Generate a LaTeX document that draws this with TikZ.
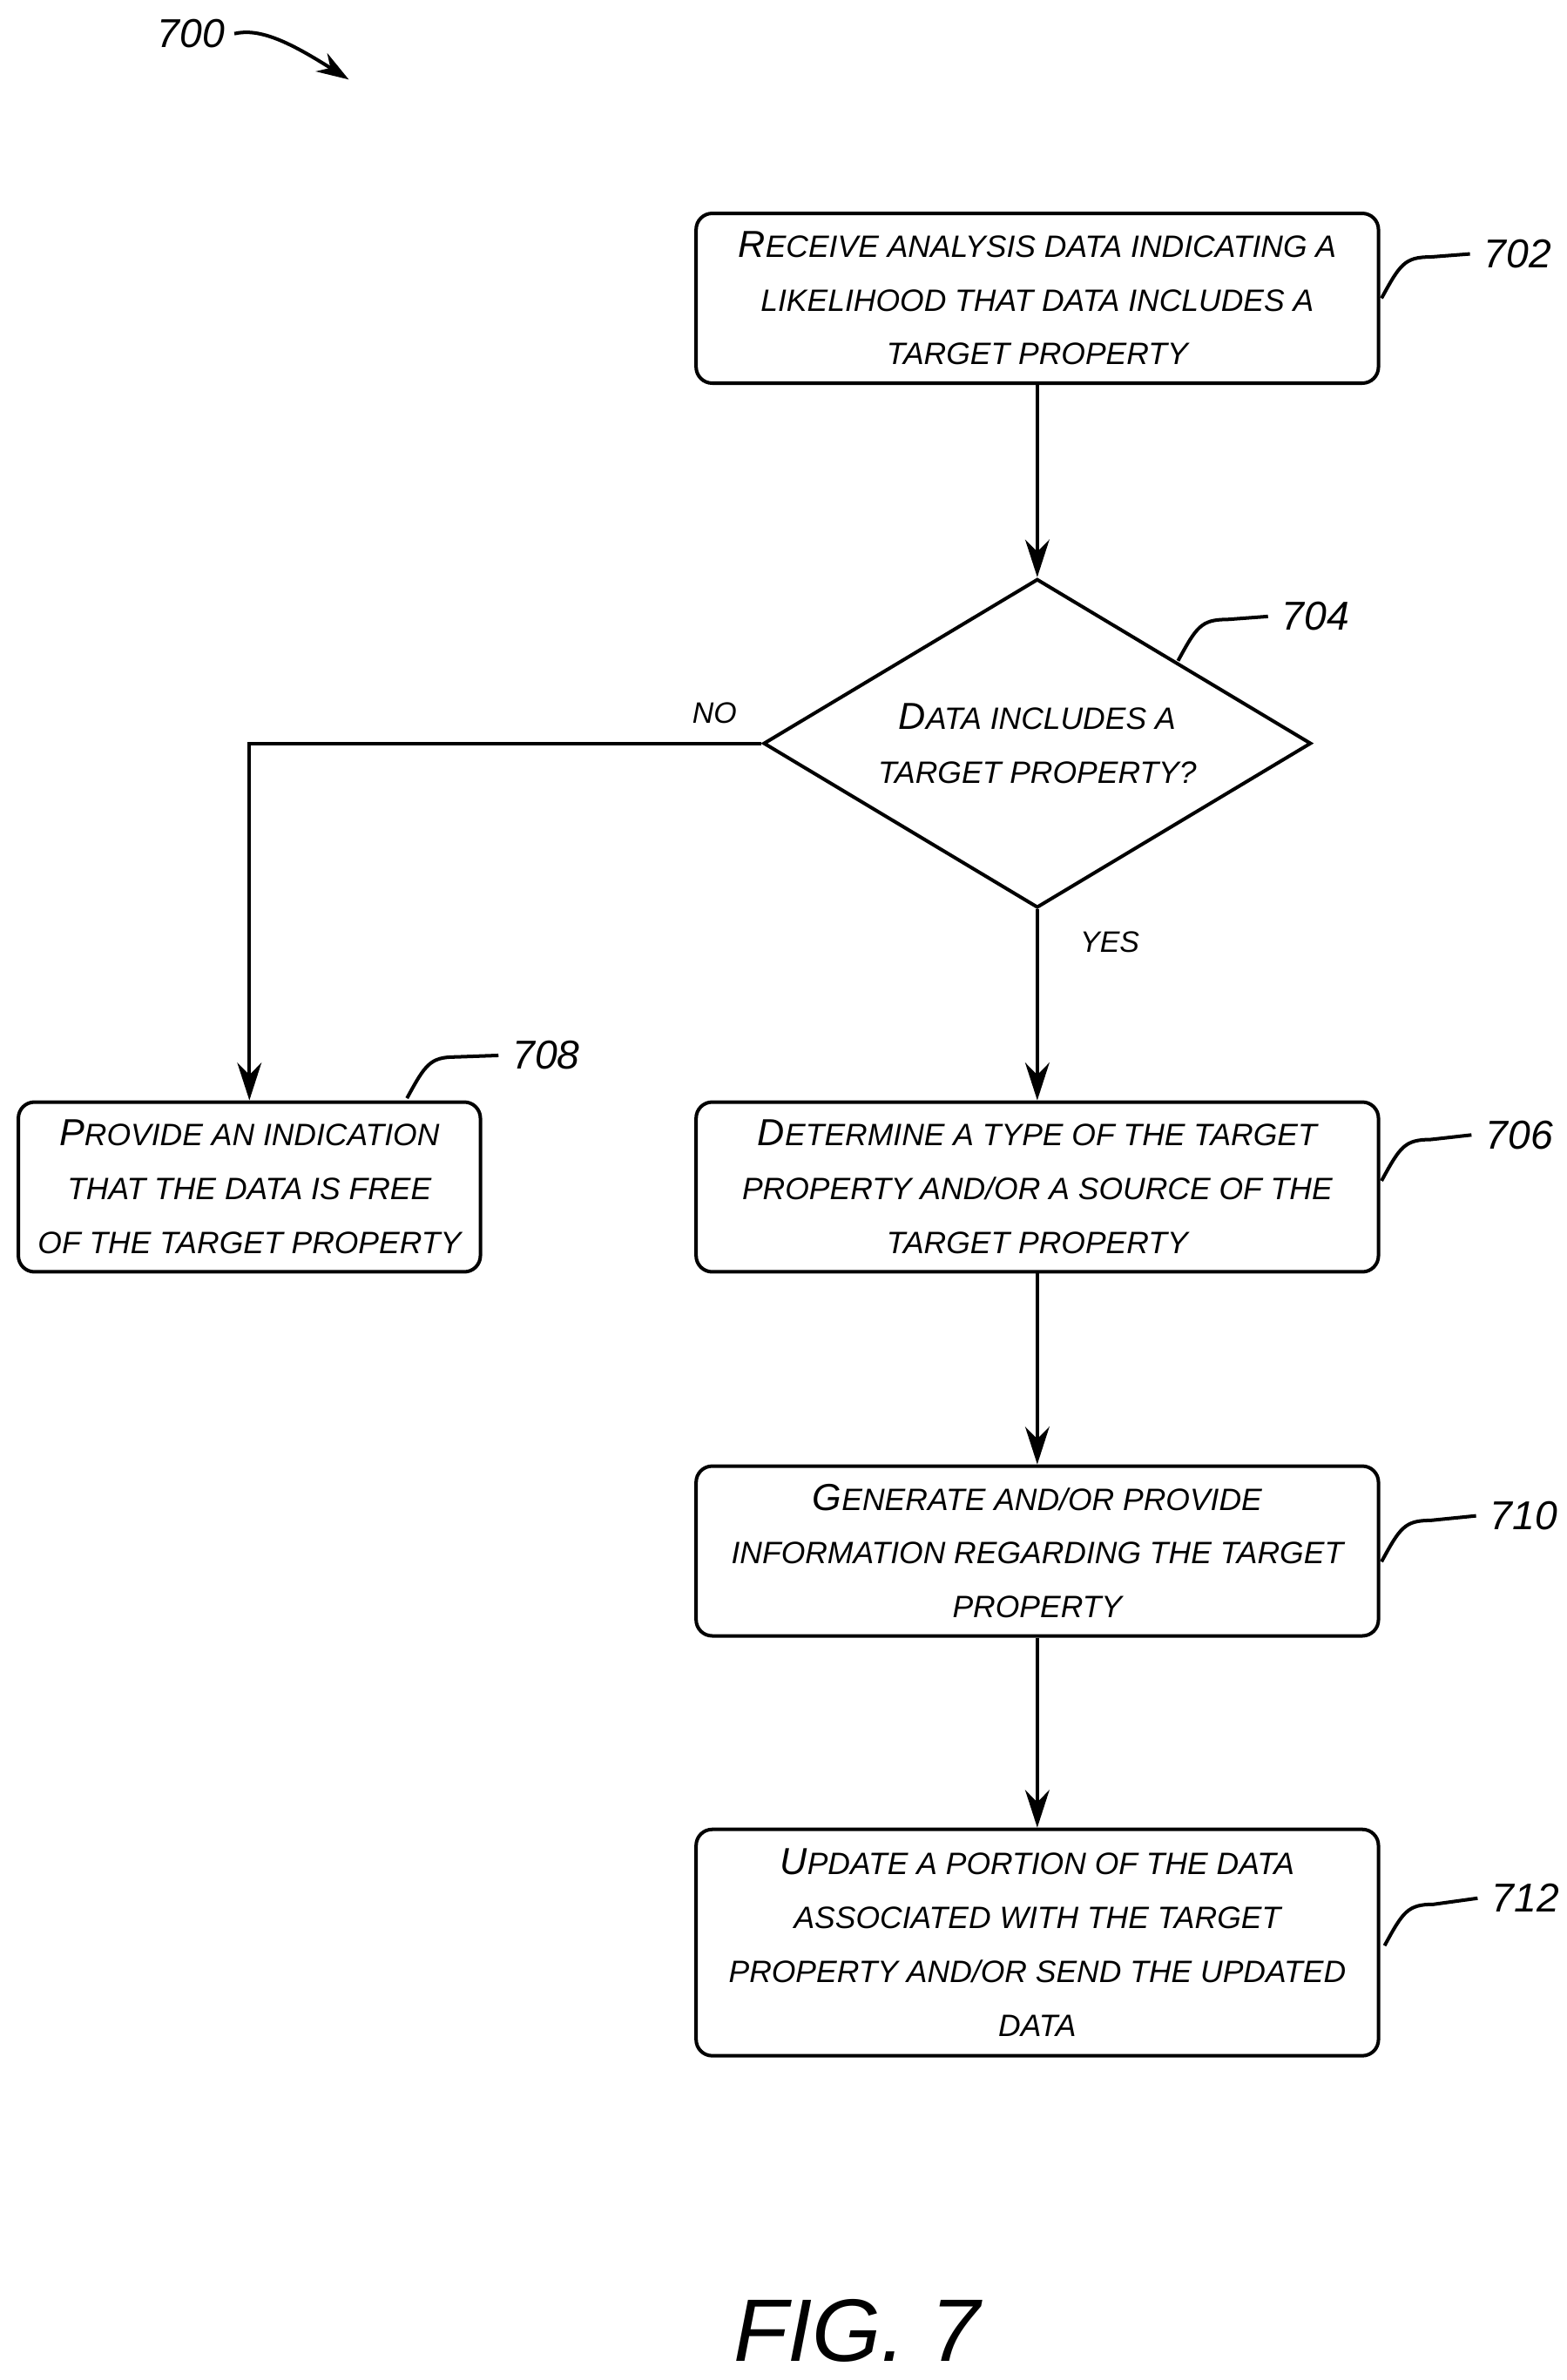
\documentclass[tikz,border=0pt]{standalone}
\usepackage{fontspec}
\setmainfont{Liberation Sans}
\usetikzlibrary{shapes.geometric,arrows.meta,calc}
\newcommand{\fl}[2]{{\fontsize{14}{20}\selectfont #1}{\fontsize{11.5}{20}\selectfont #2}}
\newcommand{\rs}[1]{{\fontsize{11.5}{20}\selectfont #1}}
\begin{document}
\begin{tikzpicture}[x=0.02cm,y=-0.02cm,
  box/.style={draw,line width=1.3pt,rounded corners=6pt,align=center,font=\itshape\fontsize{11.5}{20}\selectfont,inner sep=0pt},
  dia/.style={draw,line width=1.3pt,diamond,aspect=1.67,align=center,font=\itshape\fontsize{11.5}{20}\selectfont,inner sep=0pt,minimum width=358*0.02cm,minimum height=215*0.02cm},
  arr/.style={line width=1.3pt,-{Stealth[length=14pt,width=9pt]}},
  lead/.style={line width=1.3pt},
  num/.style={font=\itshape\fontsize{15}{18}\selectfont}]
\useasboundingbox (0,0) rectangle (1024,1556);
\node[box,minimum width=446*0.02cm,minimum height=111*0.02cm] (n702) at (678,195) {\itshape\fl{R}{ECEIVE ANALYSIS DATA INDICATING A}\\\itshape\rs{LIKELIHOOD THAT DATA INCLUDES A}\\\itshape\rs{TARGET PROPERTY}};
\node[dia] (n704) at (678,486) {\itshape\fl{D}{ATA INCLUDES A}\\\itshape\rs{TARGET PROPERTY?}};
\node[box,minimum width=446*0.02cm,minimum height=111*0.02cm] (n706) at (678,776) {\itshape\fl{D}{ETERMINE A TYPE OF THE TARGET}\\\itshape\rs{PROPERTY AND/OR A SOURCE OF THE}\\\itshape\rs{TARGET PROPERTY}};
\node[box,minimum width=302*0.02cm,minimum height=111*0.02cm] (n708) at (163,776) {\itshape\fl{P}{ROVIDE AN INDICATION}\\\itshape\rs{THAT THE DATA IS FREE}\\\itshape\rs{OF THE TARGET PROPERTY}};
\node[box,minimum width=446*0.02cm,minimum height=111*0.02cm] (n710) at (678,1014) {\itshape\fl{G}{ENERATE AND/OR PROVIDE}\\\itshape\rs{INFORMATION REGARDING THE TARGET}\\\itshape\rs{PROPERTY}};
\node[box,minimum width=446*0.02cm,minimum height=148*0.02cm] (n712) at (678,1270) {\itshape\fl{U}{PDATE A PORTION OF THE DATA}\\\itshape\rs{ASSOCIATED WITH THE TARGET}\\\itshape\rs{PROPERTY AND/OR SEND THE UPDATED}\\\itshape\rs{DATA}};
\draw[arr] (n702) -- (n704);
\draw[arr] (n704) -- node[pos=0.17,right=12pt,font=\itshape\fontsize{11}{12}\selectfont]{YES} (n706);
\draw[arr] (n704.west) -- (163,486) -- (n708.north);
\node[font=\itshape\fontsize{11}{12}\selectfont] (no) at (467,466) {NO};
\draw[arr] (n706) -- (n710);
\draw[arr] (n710) -- (n712);
% labels
\node[num] (l702) at (992,166) {702};
\node[num] (l704) at (860,403) {704};
\node[num] (l708) at (357,690) {708};
\node[num] (l706) at (993,742) {706};
\node[num] (l710) at (996,991) {710};
\node[num] (l712) at (997,1241) {712};
\coordinate (c702) at (903,195); \coordinate (c704) at (770,432); \coordinate (c708) at (266,718);
\coordinate (c706) at (903,772); \coordinate (c710) at (903,1021); \coordinate (c712) at (905,1272);
\foreach \c/\l in {c702/l702,c704/l704,c708/l708,c706/l706,c710/l710,c712/l712}{
  \draw[lead] (\c) .. controls ($(\c)+(12,-22)$) and ($(\c)+(15,-27)$) .. ($(\c)+(32,-27)$) -- ($(\l.west)+(-3,0)$);}
\node[font=\itshape\fontsize{15}{18}\selectfont] (l700) at (125,22) {700};
\coordinate (e700) at (228,52);
\draw[arr,-{Stealth[length=12pt,width=8pt]}] (l700.east) .. controls (170,18) and (190,28) .. (e700);
\node[font=\itshape\fontsize{33}{40}\selectfont] (fig) at (560,1524) {FIG. 7};
\end{tikzpicture}
\end{document}
